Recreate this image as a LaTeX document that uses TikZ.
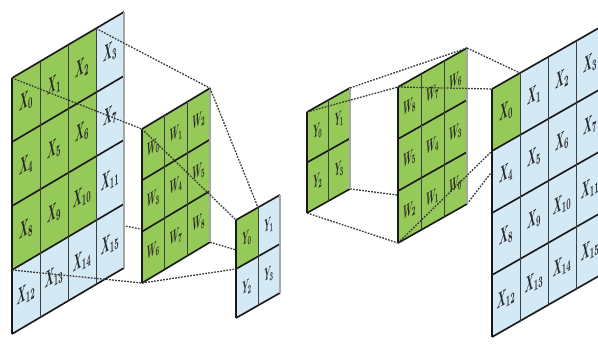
\documentclass[tikz,border=0pt]{standalone}
\usepackage{tikz}
\usetikzlibrary{backgrounds}
\definecolor{verde}{RGB}{150,202,88}
\definecolor{azul}{RGB}{212,233,246}
\begin{document}
\begin{tikzpicture}[x=.03cm, y=-.03cm,
	rejilla/.style n args={5}{shift={(#1,#2)}, x=1cm, y=1cm, yslant=#3, xscale=#4, yscale=#5, transform shape},
	fila/.style={line width=1.4pt, black!90},
	columna/.style={line width=.7pt, black!75},
	borde/.style={line width=1.3pt, gray!70},
	etiqueta/.style={font=\normalsize\boldmath, text=black!85, inner sep=0pt},
	conexion/.style={dash pattern=on 1.5pt off 1.1pt, line width=1.1pt, gray!45!black}]
	\useasboundingbox (0,0) rectangle (598,345);
	\clip (0,0) rectangle (598,345);

	% Dibujar la entrada X (izquierda)
	\begin{scope}[rejilla={12}{78}{.59}{.84}{1.92}]
	    \fill[azul] (0,0) rectangle (4,-4);
	    \fill[verde] (0,0) rectangle (3,-3);
	    \foreach \j in {0,...,4} {
	        \draw[fila] (0,-\j) -- (4,-\j);
	    }
	    \foreach \i in {1,...,3} {
	        \draw[columna] (\i,0) -- (\i,-4);
	    }
	    \draw[fila] (0,0) -- (0,-4);
	    \draw[borde] (4,0) -- (4,-4);
	    \foreach \j in {0,...,3} {
	        \foreach \i in {0,...,3} {
	            \pgfmathtruncatemacro{\k}{4*\j+\i}
	            \node[etiqueta] (xl\k) at (\i+.5,-\j-.5) {$X_{\k}$};
	        }
	    }
	    \coordinate (xl-no) at (0,0);
	    \coordinate (xl-ne) at (3,0);
	    \coordinate (xl-so) at (0,-3);
	    \coordinate (xl-se) at (3,-3);
	\end{scope}

	% Dibujar el filtro W (izquierda)
	\begin{scope}[rejilla={142}{129}{.60}{.68}{1.54}]
	    \fill[verde] (0,0) rectangle (3,-3);
	    \foreach \j in {0,...,3} {
	        \draw[fila] (0,-\j) -- (3,-\j);
	    }
	    \foreach \i in {1,2} {
	        \draw[columna] (\i,0) -- (\i,-3);
	    }
	    \draw[fila] (0,0) -- (0,-3);
	    \draw[borde] (3,0) -- (3,-3);
	    \foreach \j in {0,...,2} {
	        \foreach \i in {0,...,2} {
	            \pgfmathtruncatemacro{\k}{3*\j+\i}
	            \node[etiqueta] (wl\k) at (\i+.5,-\j-.5) {$W_{\k}$};
	        }
	    }
	    \coordinate (wl-no) at (0,0);
	    \coordinate (wl-ne) at (3,0);
	    \coordinate (wl-so) at (0,-3);
	    \coordinate (wl-se) at (3,-3);
	\end{scope}

	% Dibujar la salida Y (izquierda)
	\begin{scope}[rejilla={236}{220}{.57}{.66}{1.47}]
	    \fill[azul] (0,0) rectangle (2,-2);
	    \fill[verde] (0,0) rectangle (1,-1);
	    \foreach \j in {0,...,2} {
	        \draw[fila] (0,-\j) -- (2,-\j);
	    }
	    \draw[columna] (1,0) -- (1,-2);
	    \draw[fila] (0,0) -- (0,-2);
	    \draw[borde] (2,0) -- (2,-2);
	    \foreach \j in {0,1} {
	        \foreach \i in {0,1} {
	            \pgfmathtruncatemacro{\k}{2*\j+\i}
	            \node[etiqueta] (yl\k) at (\i+.5,-\j-.5) {$Y_{\k}$};
	        }
	    }
	    \coordinate (yl-no) at (0,0);
	    \coordinate (yl-ne) at (1,0);
	    \coordinate (yl-so) at (0,-1);
	    \coordinate (yl-se) at (1,-1);
	\end{scope}

	% Dibujar el gradiente Y (derecha)
	\begin{scope}[rejilla={307}{112}{.56}{.645}{1.515}]
	    \fill[verde] (0,0) rectangle (2,-2);
	    \foreach \j in {0,...,2} {
	        \draw[fila] (0,-\j) -- (2,-\j);
	    }
	    \draw[columna] (1,0) -- (1,-2);
	    \draw[fila] (0,0) -- (0,-2);
	    \draw[borde] (2,0) -- (2,-2);
	    \foreach \j in {0,1} {
	        \foreach \i in {0,1} {
	            \pgfmathtruncatemacro{\k}{2*\j+\i}
	            \node[etiqueta] (yr\k) at (\i+.5,-\j-.5) {$Y_{\k}$};
	        }
	    }
	    \coordinate (yr-no) at (0,0);
	    \coordinate (yr-ne) at (2,0);
	    \coordinate (yr-so) at (0,-2);
	    \coordinate (yr-se) at (2,-2);
	\end{scope}

	% Dibujar el filtro W girado (derecha)
	\begin{scope}[rejilla={398}{87}{.565}{.69}{1.56}]
	    \fill[verde] (0,0) rectangle (3,-3);
	    \foreach \j in {0,...,3} {
	        \draw[fila] (0,-\j) -- (3,-\j);
	    }
	    \foreach \i in {1,2} {
	        \draw[columna] (\i,0) -- (\i,-3);
	    }
	    \draw[fila] (0,0) -- (0,-3);
	    \draw[borde] (3,0) -- (3,-3);
	    \foreach \j in {0,...,2} {
	        \foreach \i in {0,...,2} {
	            \pgfmathtruncatemacro{\k}{8-3*\j-\i}
	            \node[etiqueta] (wr\k) at (\i+.5,-\j-.5) {$W_{\k}$};
	        }
	    }
	    \coordinate (wr-no) at (0,0);
	    \coordinate (wr-ne) at (3,0);
	    \coordinate (wr-so) at (0,-3);
	    \coordinate (wr-se) at (3,-3);
	\end{scope}

	% Dibujar el gradiente X (derecha)
	\begin{scope}[rejilla={492}{89}{.571}{.84}{1.86}]
	    \fill[azul] (0,0) rectangle (4,-4);
	    \fill[verde] (0,0) rectangle (1,-1);
	    \foreach \j in {0,...,4} {
	        \draw[fila] (0,-\j) -- (4,-\j);
	    }
	    \foreach \i in {1,...,3} {
	        \draw[columna] (\i,0) -- (\i,-4);
	    }
	    \draw[fila] (0,0) -- (0,-4);
	    \foreach \j in {0,...,3} {
	        \foreach \i in {0,...,3} {
	            \pgfmathtruncatemacro{\k}{4*\j+\i}
	            \node[etiqueta] (xr\k) at (\i+.5,-\j-.5) {$X_{\k}$};
	        }
	    }
	    \coordinate (xr-no) at (0,0);
	    \coordinate (xr-ne) at (1,0);
	    \coordinate (xr-so) at (0,-1);
	    \coordinate (xr-se) at (1,-1);
	\end{scope}

	% Unir las esquinas
	\foreach \a/\b in {xl/wl, wl/yl, yr/wr, wr/xr} {
	    \draw[conexion] (\a-no) -- (\b-no);
	    \draw[conexion] (\a-ne) -- (\b-ne);
	    \draw[conexion] (\a-so) -- (\b-so);
	}
	% Las que quedan ocultas
	\begin{scope}[on background layer]
	    \foreach \a/\b in {xl/wl, wl/yl, yr/wr, wr/xr} {
	        \draw[conexion] (\a-se) -- (\b-se);
	    }
	\end{scope}
\end{tikzpicture}
\end{document}
